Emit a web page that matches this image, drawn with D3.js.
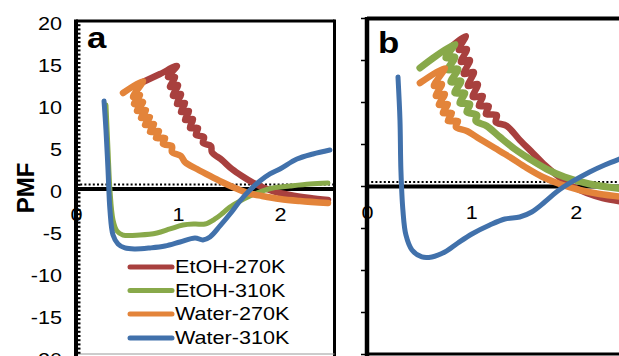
<!DOCTYPE html>
<html>
<head>
<meta charset="utf-8">
<script src="https://cdn.jsdelivr.net/npm/d3@7"></script>
<style>
  html, body { margin: 0; padding: 0; background: #fff; }
  svg { display: block; }
  text { font-family: "Liberation Sans", Arial, Helvetica, sans-serif; fill: #000; }
</style>
</head>
<body>
<svg id="chart" width="619" height="356"></svg>
<script>
// ---- data -------------------------------------------------------------
const seriesNames = ["EtOH-270K", "EtOH-310K", "Water-270K", "Water-310K"];
const seriesColors = ["#a8403e", "#88a94a", "#e3843a", "#4171ab"];
const xTickValues = [0, 1, 2];
const yTickValues = [20, 15, 10, 5, 0, -5, -10, -15, -20];
const thermalLevel = 0.55;   // dotted reference level

// panel a : [distance, PMF]
const aEtOH270 = [[0.657,12.74],[0.824,13.69],[0.990,14.64],[0.902,13.33],[0.971,13.33],[0.922,12.14],
  [1.000,12.38],[0.951,11.07],[1.029,11.31],[0.990,10.12],[1.069,10.24],[1.029,9.17],[1.108,9.29],
  [1.069,8.21],[1.147,8.33],[1.118,7.26],[1.196,7.26],[1.176,6.43],[1.255,6.19],[1.245,5.48],
  [1.324,5.12],[1.333,4.40],[1.431,3.45],[1.529,2.38],[1.627,1.55],[1.725,0.83],[1.824,0.24],
  [1.931,-0.24],[2.098,-0.71],[2.294,-1.07],[2.471,-1.31]];
const aEtOH310 = [[0.294,10.0],[0.314,4.64],[0.333,-0.12],[0.363,-3.69],[0.402,-5.0],[0.461,-5.48],
  [0.627,-5.48],[0.794,-5.24],[0.922,-4.76],[1.049,-4.29],[1.167,-4.17],[1.265,-4.17],[1.363,-3.57],
  [1.441,-2.86],[1.510,-2.14],[1.608,-1.43],[1.706,-0.83],[1.824,-0.24],[1.931,0.12],[2.098,0.36],
  [2.294,0.60],[2.471,0.71]];
const aWater270 = [[0.461,11.43],[0.657,12.86],[0.559,10.95],[0.627,11.19],[0.569,10.12],[0.657,10.36],
  [0.598,9.29],[0.686,9.40],[0.637,8.45],[0.725,8.57],[0.676,7.62],[0.765,7.74],[0.725,6.79],
  [0.814,6.90],[0.784,6.07],[0.873,6.07],[0.853,5.36],[0.941,5.12],[0.941,4.40],[1.029,3.93],
  [1.069,3.21],[1.186,2.38],[1.314,1.55],[1.431,0.83],[1.559,0.12],[1.686,-0.48],[1.824,-0.83],
  [2.000,-1.19],[2.196,-1.43],[2.471,-1.67]];
const aWater310 = [[0.275,10.48],[0.294,7.02],[0.314,2.26],[0.333,-2.50],[0.363,-5.48],[0.412,-6.55],
  [0.480,-7.02],[0.578,-7.14],[0.725,-7.02],[0.873,-6.79],[1.020,-6.31],[1.167,-5.83],[1.245,-6.07],
  [1.314,-5.71],[1.412,-4.40],[1.510,-2.98],[1.608,-1.43],[1.706,-0.12],[1.804,0.95],[1.902,1.79],
  [2.000,2.38],[2.167,3.57],[2.324,4.17],[2.490,4.64]];

// panel b : [distance, PMF]
const bEtOH270 = [[0.794,16.49],[0.947,17.92],[0.880,16.25],[0.957,16.37],[0.900,14.82],[0.986,15.06],
  [0.928,13.39],[1.024,13.63],[0.967,11.96],[1.062,12.20],[1.014,10.65],[1.110,10.77],[1.072,9.58],
  [1.167,9.58],[1.139,8.63],[1.244,8.51],[1.234,7.68],[1.340,7.20],[1.464,5.54],[1.589,3.99],
  [1.703,2.56],[1.828,1.25],[1.962,0.06],[2.105,-0.77],[2.258,-1.37],[2.469,-1.85]];
const bEtOH310 = [[0.507,14.11],[0.842,16.96],[0.756,15.30],[0.842,15.42],[0.775,13.87],[0.871,13.99],
  [0.804,12.44],[0.900,12.56],[0.842,11.13],[0.938,11.13],[0.890,9.94],[0.986,9.82],[0.957,8.87],
  [1.053,8.51],[1.043,7.80],[1.148,7.20],[1.273,5.89],[1.416,4.46],[1.560,3.27],[1.722,2.08],
  [1.895,1.13],[2.134,0.30],[2.469,-0.30]];
const bWater270 = [[0.507,12.32],[0.746,14.11],[0.641,11.96],[0.718,12.20],[0.660,10.77],[0.746,11.01],
  [0.689,9.70],[0.775,9.82],[0.727,8.75],[0.813,8.75],[0.775,7.80],[0.871,7.80],[0.852,7.08],
  [0.957,6.61],[1.081,5.65],[1.225,4.58],[1.368,3.51],[1.531,2.20],[1.684,1.13],[1.847,0.30],
  [2.038,-0.42],[2.230,-0.89],[2.469,-1.25]];
const bWater310 = [[0.297,13.04],[0.316,7.92],[0.325,1.96],[0.344,-2.80],[0.373,-5.77],[0.431,-7.56],
  [0.526,-8.39],[0.622,-8.39],[0.746,-7.80],[0.871,-6.73],[1.005,-5.65],[1.177,-4.58],[1.321,-3.87],
  [1.464,-3.63],[1.579,-3.04],[1.703,-1.85],[1.828,-0.54],[1.962,0.54],[2.134,1.73],[2.278,2.56],
  [2.469,3.51]];

// ---- layout -----------------------------------------------------------
const svg = d3.select("#chart");
const textStretch = 1.2;   // wide glyph proportions of the figure text

const panels = [
  { label: "a", series: [aEtOH270, aEtOH310, aWater270, aWater310], widths: [6.5, 5, 6.5, 5],
    x: d3.scaleLinear().domain([0, 2.54]).range([76, 335]),
    y: d3.scaleLinear().domain([-20, 20]).range([357, 21]),
    right: 334.5, bottom: 354, yLabels: true, legend: true, labelPos: [87, 48] },
  { label: "b", series: [bEtOH270, bEtOH310, bWater270, bWater310], widths: [6.5, 7, 6.5, 5],
    x: d3.scaleLinear().domain([0, 2.54]).range([367, 632]),
    y: d3.scaleLinear().domain([-20, 20]).range([354.5, 18.5]),
    right: null, bottom: 354, yLabels: false, legend: false, labelPos: [378, 53] }
];

function stretch(sel) {
  sel.each(function () {
    const t = d3.select(this);
    const x = +t.attr("x") || 0;
    t.attr("x", x / textStretch).attr("transform", `scale(${textStretch},1)`);
  });
}

panels.forEach(p => {
  const g = svg.append("g");
  const x0 = p.x(0), yTop = p.y(20), yZero = p.y(0);

  // x tick labels (drawn first, the axis line sits over the "0")
  const xAx = g.append("g").attr("transform", `translate(0,${yZero})`)
    .call(d3.axisBottom(p.x).tickValues(xTickValues).tickSize(0).tickPadding(19.5)
      .tickFormat(d => String(d)));
  xAx.select(".domain").remove();
  xAx.selectAll("text").attr("font-size", 18).attr("font-family", null);
  stretch(xAx.selectAll("text"));

  // y tick labels
  if (p.yLabels) {
    const yAx = g.append("g").attr("transform", `translate(${x0},0)`)
      .call(d3.axisLeft(p.y).tickValues(yTickValues).tickSize(0).tickPadding(14)
        .tickFormat(d => String(d)));
    yAx.select(".domain").remove();
    yAx.selectAll("text").attr("font-size", 18).attr("font-family", null).attr("y", 2.5);
    stretch(yAx.selectAll("text"));
  }

  // frame
  const xEnd = p.right !== null ? p.right : 640;
  g.append("line").attr("x1", x0).attr("x2", xEnd).attr("y1", yTop).attr("y2", yTop)
    .attr("stroke", "#000").attr("stroke-width", p.label === "a" ? 3 : 4);
  if (p.right !== null) {
    g.append("line").attr("x1", p.right).attr("x2", p.right).attr("y1", yTop - 1.5).attr("y2", 356)
      .attr("stroke", "#000").attr("stroke-width", 3);
  }
  g.append("line").attr("x1", x0).attr("x2", xEnd).attr("y1", p.bottom).attr("y2", p.bottom)
    .attr("stroke", p.label === "a" ? "#9a9a9a" : "#000").attr("stroke-width", p.label === "a" ? 1.2 : 3);

  // dotted reference level and solid zero axis
  g.append("line").attr("x1", x0).attr("x2", xEnd)
    .attr("y1", p.y(thermalLevel)).attr("y2", p.y(thermalLevel))
    .attr("stroke", "#000").attr("stroke-width", 2).attr("stroke-dasharray", "2,2.2");
  g.append("line").attr("x1", x0).attr("x2", xEnd).attr("y1", yZero).attr("y2", yZero)
    .attr("stroke", "#000").attr("stroke-width", 4);

  // left axis with its tick marks
  if (p.label === "a") {
    const minor = d3.range(-20, 20.01, 0.5);
    g.selectAll("line.minor").data(minor).join("line").attr("class", "minor")
      .attr("x1", x0).attr("x2", x0 + 4.5).attr("y1", d => p.y(d)).attr("y2", d => p.y(d))
      .attr("stroke", "#000").attr("stroke-width", 2);
  } else {
    g.selectAll("line.major").data(yTickValues).join("line").attr("class", "major")
      .attr("x1", x0 - 6).attr("x2", x0).attr("y1", d => p.y(d)).attr("y2", d => p.y(d))
      .attr("stroke", "#000").attr("stroke-width", 1.5);
  }
  g.append("line").attr("x1", x0).attr("x2", x0).attr("y1", yTop - 1.5).attr("y2", 356)
    .attr("stroke", "#000").attr("stroke-width", p.label === "a" ? 4 : 4.5);

  // PMF curves
  const line = d3.line().x(d => p.x(d[0])).y(d => p.y(d[1])).curve(d3.curveCatmullRom.alpha(0.5));
  p.series.forEach((s, i) => {
    g.append("path").attr("d", line(s)).attr("fill", "none")
      .attr("stroke", seriesColors[i]).attr("stroke-width", p.widths[i])
      .attr("stroke-linejoin", "round").attr("stroke-linecap", "round");
  });

  // panel letter
  g.append("text").attr("x", p.labelPos[0] / textStretch).attr("y", p.labelPos[1])
    .attr("transform", `scale(${textStretch},1)`)
    .attr("font-size", 29).attr("font-weight", "bold").text(p.label);

  // legend
  if (p.legend) {
    const legendY = [267, 290.5, 314, 338];
    seriesNames.forEach((name, i) => {
      g.append("line").attr("x1", 130).attr("x2", 172).attr("y1", legendY[i]).attr("y2", legendY[i])
        .attr("stroke", seriesColors[i]).attr("stroke-width", 5).attr("stroke-linecap", "round");
      g.append("text").attr("x", 175 / textStretch).attr("y", legendY[i] + 6.5)
        .attr("transform", `scale(${textStretch},1)`)
        .attr("font-size", 18).text(name);
    });
  }
});

// y-axis title
svg.append("text")
  .attr("transform", "translate(33.5,188) rotate(-90)")
  .attr("text-anchor", "middle")
  .attr("font-size", 24).attr("font-weight", "bold")
  .text("PMF");
</script>
</body>
</html>
